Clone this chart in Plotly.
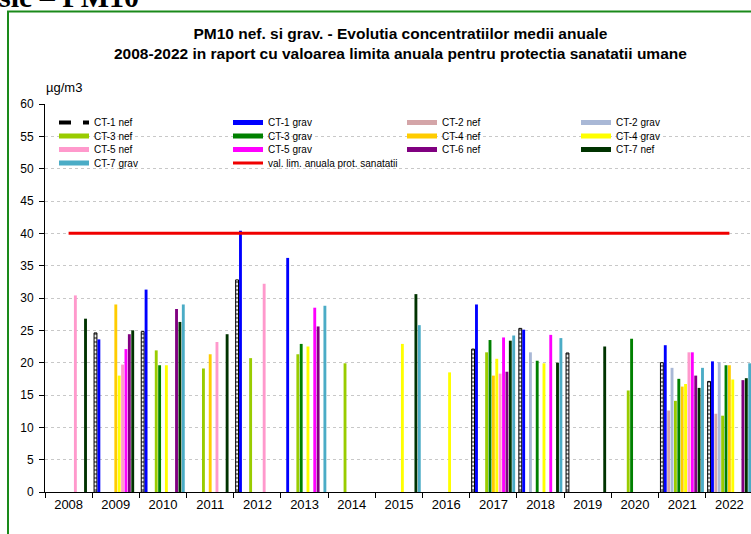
import plotly.graph_objects as go

years = ["2008", "2009", "2010", "2011", "2012", "2013", "2014", "2015",
         "2016", "2017", "2018", "2019", "2020", "2021", "2022"]

N = None
ct1_nef  = [N, 24.6, 24.8, N, 32.8, N, N, N, N, 22.1, 25.3, 21.5, N, 20.0, 17.1]
ct1_grav = [N, 23.6, 31.3, N, 40.4, 36.2, N, N, N, 29.0, 25.1, N, N, 22.7, 20.2]
ct2_nef  = [N, N, N, N, N, N, N, N, N, N, N, N, N, 12.6, 12.1]
ct2_grav = [N, N, N, N, N, N, N, N, N, N, 21.6, N, N, 19.2, 20.1]
ct3_nef  = [N, N, 21.9, 19.1, 20.7, 21.3, 19.9, N, N, 21.6, N, N, 15.7, 14.1, 11.8]
ct3_grav = [N, N, 19.6, N, N, 22.9, N, N, N, 23.5, 20.3, N, 23.7, 17.5, 19.6]
ct4_nef  = [N, 29.0, N, 21.3, N, N, N, N, N, 18.0, N, N, N, 16.3, 19.6]
ct4_grav = [N, 18.0, 19.6, N, N, 22.5, N, 22.9, 18.5, 20.6, 19.9, N, N, 16.7, 17.4]
ct5_nef  = [30.4, 19.7, N, 23.2, 32.2, N, N, N, N, 18.3, N, N, N, 21.6, N]
ct5_grav = [N, 22.1, N, N, N, 28.5, N, N, N, 23.9, 24.3, N, N, 21.6, N]
ct6_nef  = [N, 24.4, 28.3, N, N, 25.6, N, N, N, 18.6, N, N, N, 18.0, 17.3]
ct7_nef  = [26.8, 25.0, 26.3, 24.4, N, N, N, 30.6, N, 23.4, 20.0, 22.5, N, 16.1, 17.6]
ct7_grav = [N, N, 29.0, N, N, 28.8, N, 25.8, N, 24.2, 23.8, N, N, 19.2, 19.9]
limit_value = [40] * len(years)

series_names = ["CT-1 nef", "CT-1 grav", "CT-2 nef", "CT-2 grav", "CT-3 nef",
                "CT-3 grav", "CT-4 nef", "CT-4 grav", "CT-5 nef", "CT-5 grav",
                "CT-6 nef", "CT-7 nef", "CT-7 grav"]
series_values = [ct1_nef, ct1_grav, ct2_nef, ct2_grav, ct3_nef, ct3_grav,
                 ct4_nef, ct4_grav, ct5_nef, ct5_grav, ct6_nef, ct7_nef, ct7_grav]
series_colors = ["#000000", "#0000FF", "#D4A5A8", "#A9B8D6", "#99CC00",
                 "#008000", "#FFCC00", "#FFFF00", "#FF99CC", "#FF00FF",
                 "#800080", "#003300", "#4BACC6"]
limit_name = "val. lim. anuala prot. sanatatii"
title_text = ("PM10 nef. si grav. - Evolutia concentratiilor medii anuale<br>"
              "2008-2022 in raport cu valoarea limita anuala pentru protectia sanatatii umane")

W, H = 751, 534
L, R, T, B = 45, 0, 103.5, 42.3
pw, ph = W - L - R, H - T - B

def px_x(px):
    return (px - L) / pw

def px_y(py):
    return (H - B - py) / ph

FONT = "Arial, Liberation Sans, sans-serif"
legend_ids = ["legend", "legend2", "legend3", "legend4"]
legend_rows_y = [122, 135.5, 149, 162.5]

fig = go.Figure()

# bars
for i, (name, vals, col) in enumerate(zip(series_names, series_values, series_colors)):
    if i == 0:
        marker = dict(color="white",
                      pattern=dict(shape="-", fgcolor="black", bgcolor="white",
                                   size=4, solidity=0.55),
                      line=dict(color="black", width=1))
    else:
        marker = dict(color=col, line=dict(width=0))
    fig.add_trace(go.Bar(x=years, y=vals, name=name, marker=marker,
                         showlegend=False))

# legend entries (line symbols like the original), 4 per row
for i, (name, col) in enumerate(zip(series_names, series_colors)):
    if i == 0:
        line = dict(color="black", width=4, dash="dash")
    else:
        line = dict(color=col, width=5)
    fig.add_trace(go.Scatter(x=[None], y=[None], mode="lines", name=name,
                             line=line, showlegend=True, hoverinfo="skip",
                             legend=legend_ids[i // 4]))

# limit value line
fig.add_trace(go.Scatter(x=years, y=limit_value, mode="lines", name=limit_name,
                         line=dict(color="#F00000", width=3),
                         legend=legend_ids[len(series_names) // 4],
                         legendwidth=200))

legend_common = dict(orientation="h", x=px_x(54), xanchor="left",
                     yanchor="middle", entrywidth=129, entrywidthmode="pixels",
                     bgcolor="rgba(0,0,0,0)", borderwidth=0,
                     font=dict(size=10, color="#000000", family=FONT),
                     itemwidth=30, traceorder="normal")

fig.update_layout(
    width=W, height=H,
    margin=dict(l=L, r=R, t=T, b=B, pad=0),
    paper_bgcolor="white", plot_bgcolor="white",
    barmode="group", bargap=0.068, bargroupgap=0.15,
    font=dict(family=FONT, color="#000000"),
    showlegend=True,
    **{lid: dict(legend_common, y=px_y(yc)) for lid, yc in zip(legend_ids, legend_rows_y)}
)

fig.update_xaxes(type="category", range=[-0.5, 14.458],
                 showline=True, linecolor="black", linewidth=1,
                 ticks="outside", tickson="boundaries", ticklen=5,
                 tickcolor="black", showgrid=False,
                 tickfont=dict(size=13, color="#000000"))
fig.update_yaxes(range=[0, 60], dtick=5, tick0=0,
                 showline=True, linecolor="black", linewidth=1,
                 ticks="outside", ticklen=5, tickcolor="black",
                 ticklabelstandoff=3,
                 showgrid=True, gridcolor="#C8C8C8", griddash="dot", gridwidth=1,
                 zeroline=False,
                 tickfont=dict(size=12, color="#000000"))

# title
fig.add_annotation(text=title_text, xref="paper", yref="paper",
                   x=px_x(400), y=px_y(42.5), xanchor="center", yanchor="middle",
                   showarrow=False, align="center",
                   font=dict(size=15.5, family=FONT, color="#000000", weight="bold"))

# unit label
fig.add_annotation(text="µg/m3", xref="paper", yref="paper",
                   x=px_x(44), y=px_y(87), xanchor="left", yanchor="middle",
                   showarrow=False, font=dict(size=13, color="#000000"))

# cut heading of the source document
fig.add_annotation(text="sie – PM10", xref="paper", yref="paper",
                   x=px_x(141), y=px_y(-4), xanchor="right", yanchor="middle",
                   showarrow=False,
                   font=dict(size=30, family="Liberation Serif, Times New Roman, serif",
                             color="#000000", weight="bold"))

# green chart frame
fig.add_shape(type="rect", xref="paper", yref="paper",
              x0=px_x(8), x1=px_x(W + 20), y0=px_y(H + 20), y1=px_y(11),
              line=dict(color="#1A8A1A", width=2), fillcolor="rgba(0,0,0,0)",
              layer="above")

fig.write_html("out.html", config={"displayModeBar": False},
               post_script="document.body.style.margin='0';")
